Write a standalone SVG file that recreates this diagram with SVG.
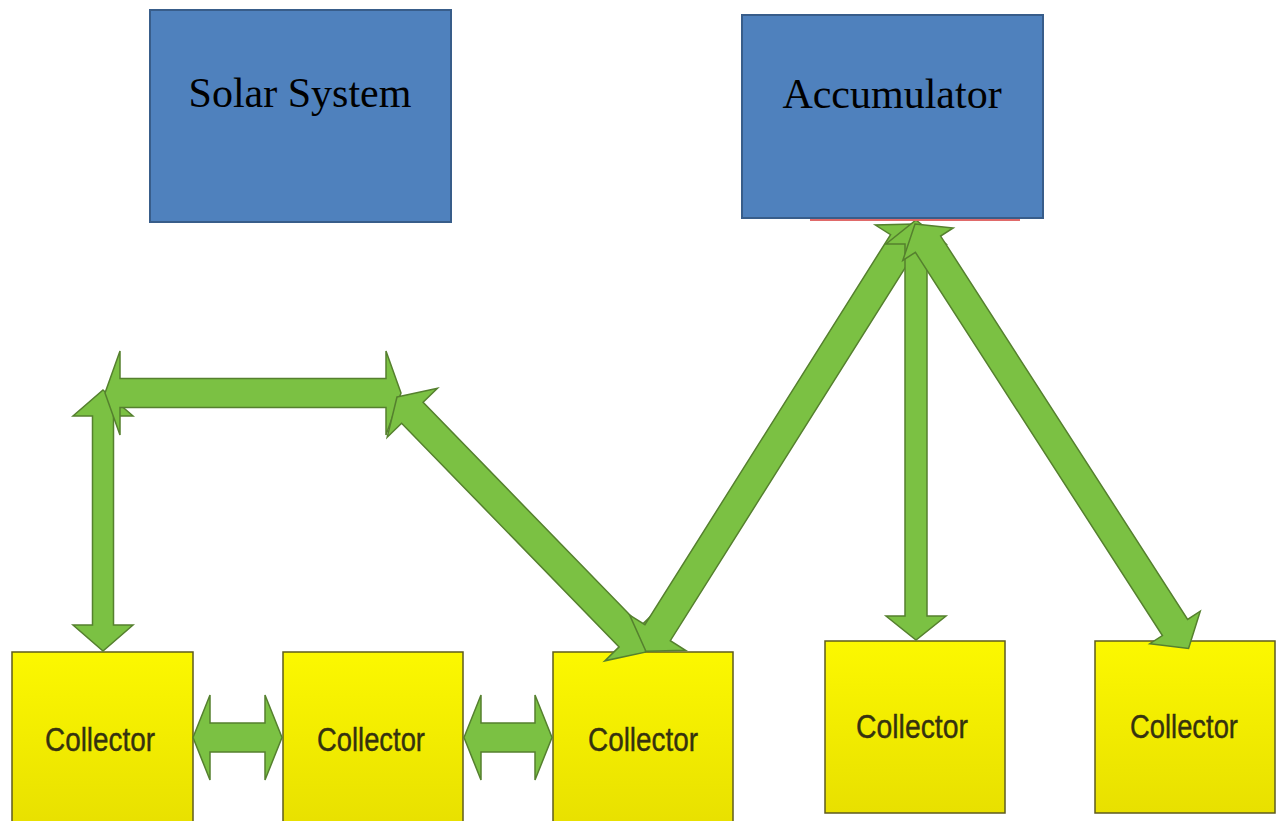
<svg xmlns="http://www.w3.org/2000/svg" width="1276" height="821" viewBox="0 0 1276 821">
  <defs>
    <linearGradient id="yellowFill" x1="0" y1="0" x2="0" y2="1">
      <stop offset="0" stop-color="#fcf800"/>
      <stop offset="1" stop-color="#e8e000"/>
    </linearGradient>
    <style>
      .blue { fill: #4f81bd; stroke: #385d8a; stroke-width: 2; }
      .blue-label { font-family: "Liberation Serif", "Times New Roman", serif; font-size: 42px; fill: #000; text-anchor: middle; }
      .yellow { fill: url(#yellowFill); stroke: #5e5b1e; stroke-width: 1.5; }
      .yellow-label { font-family: "Liberation Sans", Arial, sans-serif; font-size: 34px; fill: #35320f; stroke: #35320f; stroke-width: 0.4; text-anchor: middle; }
      .arrow { fill: #7bc143; stroke: #55802e; stroke-width: 1.5; stroke-linejoin: miter; }
    </style>
  </defs>

  <rect width="1276" height="821" fill="#ffffff"/>

  <!-- collectors -->
  <g id="collector-1">
    <rect class="yellow" x="12" y="652" width="181" height="175"/>
    <text class="yellow-label" x="100" y="751" textLength="110" lengthAdjust="spacingAndGlyphs">Collector</text>
  </g>
  <g id="collector-2">
    <rect class="yellow" x="283" y="652" width="180" height="175"/>
    <text class="yellow-label" x="371" y="751" textLength="108" lengthAdjust="spacingAndGlyphs">Collector</text>
  </g>
  <g id="collector-3">
    <rect class="yellow" x="553" y="652" width="180" height="175"/>
    <text class="yellow-label" x="643" y="751" textLength="110" lengthAdjust="spacingAndGlyphs">Collector</text>
  </g>
  <g id="collector-4">
    <rect class="yellow" x="825" y="641" width="180" height="172"/>
    <text class="yellow-label" x="912" y="738" textLength="112" lengthAdjust="spacingAndGlyphs">Collector</text>
  </g>
  <g id="collector-5">
    <rect class="yellow" x="1095" y="641" width="180" height="172"/>
    <text class="yellow-label" x="1184" y="738" textLength="108" lengthAdjust="spacingAndGlyphs">Collector</text>
  </g>

  <!-- connectors: double and single block arrows, drawn along local x axis -->
  <g id="connectors">
    <polygon class="arrow" transform="translate(103,390) rotate(90)"
      points="0,0 26,-30 26,-10.5 235,-10.5 235,-30 261,0 235,30 235,10.5 26,10.5 26,30"/>
    <polygon class="arrow" transform="translate(105,393)"
      points="0,0 15,-42 15,-14.5 281,-14.5 281,-42 296,0 281,42 281,14.5 15,14.5 15,42"/>
    <polygon class="arrow" transform="translate(397,397) rotate(45.8)"
      points="0,0 22,-35 22,-15 334,-15 334,-35 356,0 334,35 334,15 22,15 22,35"/>
    <polygon class="arrow" transform="translate(915,224) rotate(122.2)"
      points="0,0 22,-33 22,-15 483,-15 483,-33 505,0 483,33 483,15 22,15 22,33"/>
    <polygon class="arrow" transform="translate(916,220) rotate(90)"
      points="0,0 24,-30 24,-11 396,-11 396,-30 420,0 396,30 396,11 24,11 24,30"/>
    <polygon class="arrow" transform="translate(915,224) rotate(57.2)"
      points="0,0 24,-30 24,-15 480,-15 480,-30 505,0 480,30 480,15 24,15 24,30"/>
    <polygon class="arrow" transform="translate(193,737.5)"
      points="0,0 17,-42.5 17,-14.5 72,-14.5 72,-42.5 89,0 72,42.5 72,14.5 17,14.5 17,42.5"/>
    <polygon class="arrow" transform="translate(464,737.5)"
      points="0,0 17,-42.5 17,-14.5 71,-14.5 71,-42.5 88,0 71,42.5 71,14.5 17,14.5 17,42.5"/>
  </g>

  <!-- top blocks -->
  <g id="solar-system">
    <rect class="blue" x="150" y="10" width="301" height="212"/>
    <text class="blue-label" x="300" y="107">Solar System</text>
  </g>
  <g id="accumulator">
    <line x1="810" y1="220" x2="1020" y2="220" stroke="#e06a6a" stroke-width="2"/>
    <rect class="blue" x="742" y="15" width="301" height="203"/>
    <text class="blue-label" x="892" y="108">Accumulator</text>
  </g>
</svg>
